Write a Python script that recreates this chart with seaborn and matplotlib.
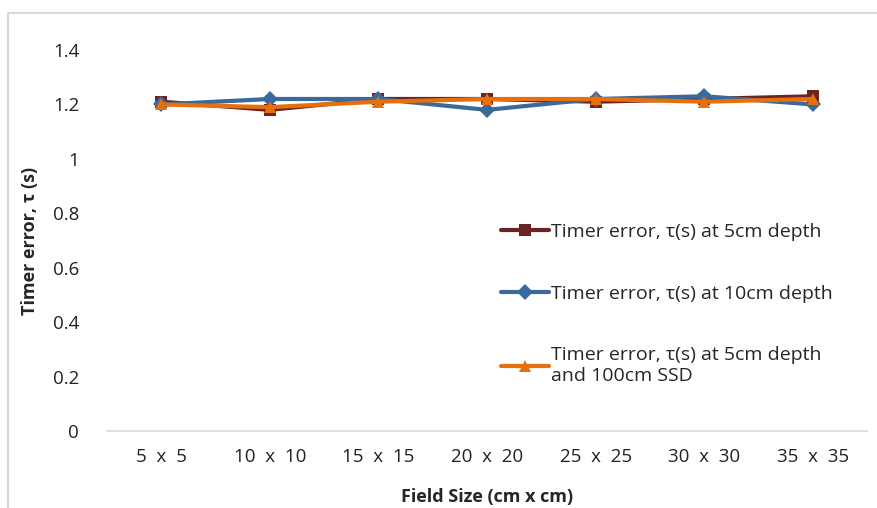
import pandas as pd
import seaborn as sns
from matplotlib import pyplot as plt
from matplotlib.patches import Rectangle

# data
field_sizes = ['5  x  5', '10  x  10', '15  x  15', '20  x  20', '25  x  25', '30  x  30', '35  x  35']
err_5cm = [1.21, 1.18, 1.22, 1.22, 1.21, 1.22, 1.23]
err_10cm = [1.20, 1.22, 1.22, 1.18, 1.22, 1.23, 1.20]
err_5cm_100ssd = [1.20, 1.19, 1.21, 1.22, 1.22, 1.21, 1.22]
labels = ['Timer error, τ(s) at 5cm depth',
          'Timer error, τ(s) at 10cm depth',
          'Timer error, τ(s) at 5cm depth\nand 100cm SSD']

df = pd.DataFrame({'field': field_sizes * 3,
                   'err': err_5cm + err_10cm + err_5cm_100ssd,
                   'series': [labels[0]] * 7 + [labels[1]] * 7 + [labels[2]] * 7})

sns.set_style('white')
plt.rcParams['font.family'] = ['Open Sans', 'DejaVu Sans']

fig = plt.figure(figsize=(8.77, 5.08), dpi=100)
ax = fig.add_axes([107 / 877, 77 / 508, 760 / 877, 381 / 508])

palette = {labels[0]: '#6b2424', labels[1]: '#3a6a9c', labels[2]: '#e8700c'}
markers = {labels[0]: 's', labels[1]: 'D', labels[2]: '^'}
sns.lineplot(data=df, x='field', y='err', hue='series', style='series',
             palette=palette, markers=markers, dashes=False, sort=False,
             linewidth=3.0, markersize=8, markeredgewidth=0, ax=ax)

ax.set_ylim(0, 1.4)
ax.set_yticks([0, 0.2, 0.4, 0.6, 0.8, 1, 1.2, 1.4])
ax.set_yticklabels(['0', '0.2', '0.4', '0.6', '0.8', '1', '1.2', '1.4'])
ax.set_xlim(-0.5, 6.5)
ax.tick_params(axis='both', labelsize=13.5, length=0, colors='#222222')
ax.tick_params(axis='y', pad=20)
ax.tick_params(axis='x', pad=12)
for s in ['top', 'right', 'left']:
    ax.spines[s].set_visible(False)
ax.spines['bottom'].set_color('#d9d9d9')
ax.spines['bottom'].set_linewidth(1.2)

ax.set_xlabel('Field Size (cm x cm)', fontsize=13, fontweight='bold', labelpad=16)
ax.set_ylabel('Timer error, τ (s)', fontsize=13, fontweight='bold', labelpad=10)

leg = ax.legend(loc='upper left', bbox_to_anchor=(0.495, 0.592), frameon=False,
                fontsize=14, handlelength=2.5, handletextpad=0.1,
                labelspacing=2.25)
for h in leg.legend_handles:
    h.set_linewidth(3.0)

fig.patches.append(Rectangle((8 / 877, -0.01), 1.0, 1 - 13 / 508 + 0.01,
                             transform=fig.transFigure, fill=False,
                             edgecolor='#d9d9d9', linewidth=1.5))

plt.savefig('out.png', dpi=100)
